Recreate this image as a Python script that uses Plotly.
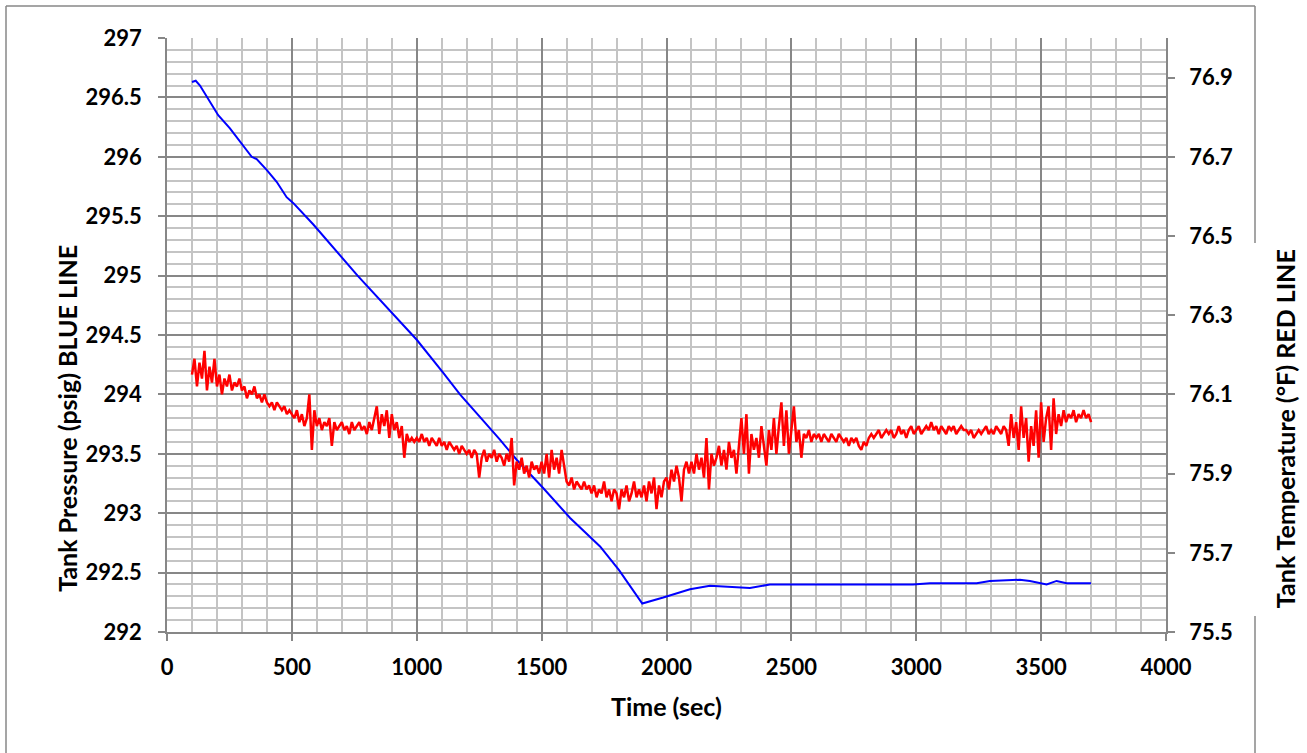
import plotly.graph_objects as go

# Tank pressure (left axis, psig) sampled over time (sec)
blue_time = [100, 115, 132, 172, 205, 252, 292, 339, 359, 399, 439, 479, 506, 552, 586,
             763, 1000, 1107, 1173, 1266, 1333, 1400, 1507, 1614, 1734, 1810, 1903,
             1987, 2054, 2094, 2174, 2254, 2334, 2414, 2494, 2655, 2787, 2987, 3055,
             3242, 3295, 3415, 3455, 3522, 3562, 3602, 3700]
blue_psig = [296.63, 296.64, 296.60, 296.46, 296.35, 296.24, 296.13, 296.00, 295.98, 295.89,
             295.79, 295.66, 295.61, 295.51, 295.43, 295.00, 294.46, 294.18, 294.00, 293.78,
             293.62, 293.45, 293.21, 292.96, 292.72, 292.52, 292.24, 292.29, 292.33, 292.36,
             292.39, 292.38, 292.37, 292.40, 292.40, 292.40, 292.40, 292.40, 292.41, 292.41,
             292.43, 292.44, 292.43, 292.40, 292.43, 292.41, 292.41]

# Tank temperature (right axis, deg F), logged every 10 s from 100 s to 3700 s
red_time = list(range(100, 3701, 10))
red_degf = [
    76.15, 76.19, 76.12, 76.18, 76.14, 76.21, 76.11, 76.17, 76.13, 76.19,
    76.12, 76.15, 76.10, 76.14, 76.12, 76.15, 76.11, 76.13, 76.12, 76.14,
    76.11, 76.12, 76.09, 76.11, 76.10, 76.12, 76.09, 76.10, 76.08, 76.10,
    76.08, 76.07, 76.08, 76.06, 76.08, 76.07, 76.06, 76.07, 76.05, 76.06,
    76.05, 76.04, 76.06, 76.03, 76.05, 76.02, 76.04, 76.10, 75.96, 76.06,
    76.02, 76.04, 76.01, 76.03, 76.02, 76.04, 75.97, 76.03, 76.01, 76.02,
    76.03, 76.01, 76.02, 76.00, 76.03, 76.01, 76.02, 76.03, 76.01, 76.02,
    76.00, 76.03, 76.01, 76.04, 76.07, 76.00, 76.05, 76.02, 76.06, 75.99,
    76.05, 76.01, 76.03, 75.99, 76.02, 75.94, 76.00, 75.98, 75.99, 75.98,
    75.99, 75.98, 76.00, 75.98, 75.99, 75.97, 75.99, 75.98, 75.97, 75.99,
    75.97, 75.98, 75.96, 75.98, 75.97, 75.96, 75.97, 75.95, 75.97, 75.96,
    75.95, 75.96, 75.94, 75.96, 75.95, 75.89, 75.94, 75.96, 75.93, 75.95,
    75.94, 75.96, 75.93, 75.95, 75.94, 75.92, 75.95, 75.93, 75.99, 75.87,
    75.93, 75.91, 75.94, 75.90, 75.92, 75.89, 75.93, 75.91, 75.92, 75.90,
    75.93, 75.90, 75.95, 75.89, 75.96, 75.91, 75.94, 75.90, 75.96, 75.92,
    75.88, 75.87, 75.89, 75.86, 75.88, 75.87, 75.86, 75.88, 75.86, 75.87,
    75.85, 75.87, 75.84, 75.86, 75.85, 75.88, 75.84, 75.86, 75.83, 75.86,
    75.85, 75.81, 75.86, 75.84, 75.87, 75.83, 75.85, 75.88, 75.84, 75.86,
    75.84, 75.87, 75.83, 75.88, 75.85, 75.89, 75.81, 75.87, 75.84, 75.88,
    75.89, 75.86, 75.91, 75.88, 75.92, 75.89, 75.83, 75.91, 75.93, 75.90,
    75.93, 75.90, 75.95, 75.91, 75.94, 75.89, 75.99, 75.86, 75.95, 75.92,
    75.94, 75.97, 75.92, 75.96, 75.91, 75.98, 75.94, 75.96, 75.90, 75.97,
    76.04, 75.95, 76.05, 75.90, 76.00, 75.96, 75.99, 75.94, 76.02, 75.97,
    75.92, 76.01, 75.96, 76.04, 75.95, 76.02, 76.08, 75.97, 76.06, 75.95,
    76.02, 76.07, 75.98, 76.01, 75.94, 76.00, 75.99, 76.01, 75.98, 76.00,
    75.99, 76.00, 75.98, 76.00, 75.99, 75.98, 76.00, 75.99, 75.98, 76.00,
    75.99, 75.98, 75.99, 75.97, 75.99, 75.98, 75.99, 75.97, 75.96, 75.98,
    75.97, 75.99, 76.00, 75.99, 76.00, 76.01, 75.99, 76.00, 76.01, 76.00,
    76.01, 75.99, 76.00, 76.02, 76.00, 76.01, 75.99, 76.01, 76.02, 76.00,
    76.01, 76.02, 76.00, 76.01, 76.02, 76.01, 76.03, 76.01, 76.02, 76.00,
    76.02, 76.01, 76.00, 76.02, 76.01, 76.02, 76.00, 76.01, 76.02, 76.01,
    76.01, 76.00, 76.01, 75.99, 76.00, 76.01, 76.00, 76.01, 76.02, 76.00,
    76.01, 76.00, 76.02, 76.01, 76.00, 76.02, 76.01, 75.97, 76.05, 75.99,
    76.03, 75.96, 76.07, 75.99, 76.04, 75.93, 76.02, 75.97, 76.06, 75.94,
    76.08, 75.98, 76.04, 76.07, 75.96, 76.09, 76.00, 76.05, 76.02, 76.06,
    76.03, 76.05, 76.04, 76.06, 76.03, 76.05, 76.04, 76.06, 76.04, 76.05,
    76.03,
]

# Tick labels
x_ticks = [0, 500, 1000, 1500, 2000, 2500, 3000, 3500, 4000]
x_labels = ["0", "500", "1000", "1500", "2000", "2500", "3000", "3500", "4000"]
left_ticks = [292, 292.5, 293, 293.5, 294, 294.5, 295, 295.5, 296, 296.5, 297]
left_labels = ["292", "292.5", "293", "293.5", "294", "294.5", "295", "295.5", "296", "296.5", "297"]
right_ticks = [75.5, 75.7, 75.9, 76.1, 76.3, 76.5, 76.7, 76.9]
right_labels = ["75.5", "75.7", "75.9", "76.1", "76.3", "76.5", "76.7", "76.9"]

FONT = "Lato"
MAJOR = "#878787"
MINOR = "#c4c4c4"

fig = go.Figure()
fig.add_trace(go.Scatter(x=blue_time, y=blue_psig, mode="lines",
                         line=dict(color="#0000ff", width=2), yaxis="y",
                         showlegend=False))
fig.add_trace(go.Scatter(x=red_time, y=red_degf, mode="lines",
                         line=dict(color="#ff0000", width=2.5), yaxis="y2",
                         showlegend=False))

tickfont = dict(family=FONT, size=22, color="#000000", weight="bold")

fig.update_layout(
    width=1307, height=753,
    margin=dict(l=167, r=141, t=38, b=121),
    paper_bgcolor="white", plot_bgcolor="white",
    xaxis=dict(
        range=[0, 4000], tickvals=x_ticks, ticktext=x_labels,
        showgrid=True, gridcolor=MAJOR, gridwidth=1.5,
        minor=dict(dtick=100, tick0=0, showgrid=True, gridcolor=MINOR, gridwidth=1.5),
        showline=True, linecolor=MAJOR, linewidth=1.5,
        ticks="outside", ticklen=7, tickcolor=MAJOR, tickwidth=1.5,
        tickfont=tickfont, ticklabelstandoff=8, zeroline=False,
    ),
    yaxis=dict(
        range=[292, 297], tickvals=left_ticks, ticktext=left_labels,
        showgrid=True, gridcolor=MAJOR, gridwidth=1.5,
        minor=dict(dtick=0.1, tick0=292, showgrid=True, gridcolor=MINOR, gridwidth=1.5),
        showline=True, linecolor=MAJOR, linewidth=1.5,
        ticks="outside", ticklen=7, tickcolor=MAJOR, tickwidth=1.5,
        tickfont=tickfont, ticklabelstandoff=12, zeroline=False,
    ),
    yaxis2=dict(
        range=[75.5, 77.0], tickvals=right_ticks, ticktext=right_labels,
        overlaying="y", side="right", showgrid=False,
        showline=True, linecolor=MAJOR, linewidth=1.5,
        ticks="outside", ticklen=7, tickcolor=MAJOR, tickwidth=1.5,
        tickfont=tickfont, ticklabelstandoff=10, zeroline=False,
    ),
)

titlefont = dict(family=FONT, size=25, color="#000000", weight="bold")
fig.add_annotation(text="Time (sec)", xref="paper", yref="paper",
                   x=0.5, y=-0.125, xanchor="center", yanchor="middle",
                   showarrow=False, font=titlefont)
fig.add_annotation(text="Tank Pressure (psig) BLUE LINE", xref="paper", yref="paper",
                   x=-0.1, y=0.359, xanchor="center", yanchor="middle", textangle=-90,
                   showarrow=False, font=titlefont)
fig.add_annotation(text="Tank Temperature (°F) RED LINE", xref="paper", yref="paper",
                   x=1.119, y=0.343, xanchor="center", yanchor="middle", textangle=-90,
                   showarrow=False, font=titlefont)

# Chart frame (interrupted where the right-hand axis title sits)
frame = dict(color=MAJOR, width=1.5)
for x0, y0, x1, y1 in [(6, 6, 1255, 6), (6, 6, 6, 760),
                       (1255, 6, 1255, 243), (1255, 616, 1255, 760)]:
    fig.add_shape(type="line", xref="paper", yref="paper",
                  x0=(x0 - 167) / 999, x1=(x1 - 167) / 999,
                  y0=(632 - y0) / 594, y1=(632 - y1) / 594,
                  line=frame, layer="above")

fig.write_html("out.html")
